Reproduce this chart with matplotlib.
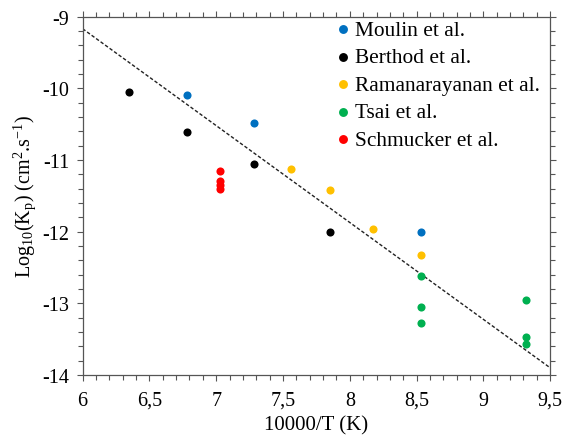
import matplotlib
matplotlib.use("Agg")
import matplotlib.pyplot as plt
from matplotlib.ticker import MultipleLocator

plt.rcParams['font.family'] = ['Liberation Serif', 'DejaVu Serif']
plt.rcParams['mathtext.fontset'] = 'custom'
plt.rcParams['mathtext.rm'] = 'Liberation Serif'
plt.rcParams['mathtext.it'] = 'Liberation Serif'

moulin_x = [6.78, 7.28, 8.53]
moulin_y = [-10.09, -10.48, -12.00]
berthod_x = [6.35, 6.78, 7.28, 7.855]
berthod_y = [-10.05, -10.61, -11.06, -12.00]
raman_x = [7.56, 7.855, 8.17, 8.53]
raman_y = [-11.12, -11.42, -11.96, -12.33]
tsai_x = [8.53, 8.53, 8.53, 9.32, 9.32, 9.32]
tsai_y = [-12.62, -13.05, -13.28, -12.96, -13.47, -13.57]
schm_x = [7.03, 7.03, 7.03, 7.03]
schm_y = [-11.16, -11.29, -11.35, -11.41]
fit_x = [6.0, 9.5]
fit_y = [-9.17, -13.90]

x_ticks = [6, 6.5, 7, 7.5, 8, 8.5, 9, 9.5]
x_tick_labels = ['6', '6,5', '7', '7,5', '8', '8,5', '9', '9,5']
y_ticks = [-14, -13, -12, -11, -10, -9]
y_tick_labels = ['-14', '-13', '-12', '-11', '-10', '-9']

fig = plt.figure(figsize=(5.62, 4.39), dpi=100)
ax = fig.add_axes([0.147, 0.1435, 0.832, 0.8165])

ax.plot(fit_x, fit_y, color='#222222', lw=1.0, ls=(0, (2.5, 1.5)), zorder=1)

ms = 34
ax.scatter(moulin_x, moulin_y, s=ms, color='#0070C0', label='Moulin et al.', zorder=3, linewidths=0)
ax.scatter(berthod_x, berthod_y, s=ms, color='#000000', label='Berthod et al.', zorder=3, linewidths=0)
ax.scatter(raman_x, raman_y, s=ms, color='#FFC000', label='Ramanarayanan et al.', zorder=3, linewidths=0)
ax.scatter(tsai_x, tsai_y, s=ms, color='#00B050', label='Tsai et al.', zorder=3, linewidths=0)
ax.scatter(schm_x, schm_y, s=ms, color='#FF0000', label='Schmucker et al.', zorder=3, linewidths=0)

ax.set_xlim(6, 9.5)
ax.set_ylim(-14, -9)
ax.set_xticks(x_ticks)
ax.set_xticklabels(x_tick_labels)
ax.set_yticks(y_ticks)
ax.set_yticklabels(y_tick_labels)
ax.xaxis.set_minor_locator(MultipleLocator(0.1))
ax.yaxis.set_minor_locator(MultipleLocator(0.2))

ax.tick_params(which='both', direction='out', top=True, right=True,
               labeltop=False, labelright=False, color='#555555', width=0.8)
ax.tick_params(which='major', length=4.5, labelsize=14.5, pad=5)
ax.tick_params(which='minor', length=3.3)
ax.tick_params(axis='x', which='major', pad=7)
for s in ax.spines.values():
    s.set_color('#555555')
    s.set_linewidth(0.9)

ax.set_xlabel('10000/T (K)', fontsize=15, labelpad=4)
ax.set_ylabel(r'Log$_{10}$(K$_\mathrm{p}$) (cm$^2$.s$^{-1}$)', fontsize=14.5, labelpad=3)

leg = ax.legend(loc='upper left', frameon=False, fontsize=15.4, handletextpad=0.16,
                labelspacing=0.35, borderpad=0.0, borderaxespad=0.0, handlelength=0.8,
                scatterpoints=1, markerscale=1.1, bbox_to_anchor=(334.4 / 562, 1 - 21 / 439),
                bbox_transform=fig.transFigure)

fig.savefig('out.png', dpi=100)
